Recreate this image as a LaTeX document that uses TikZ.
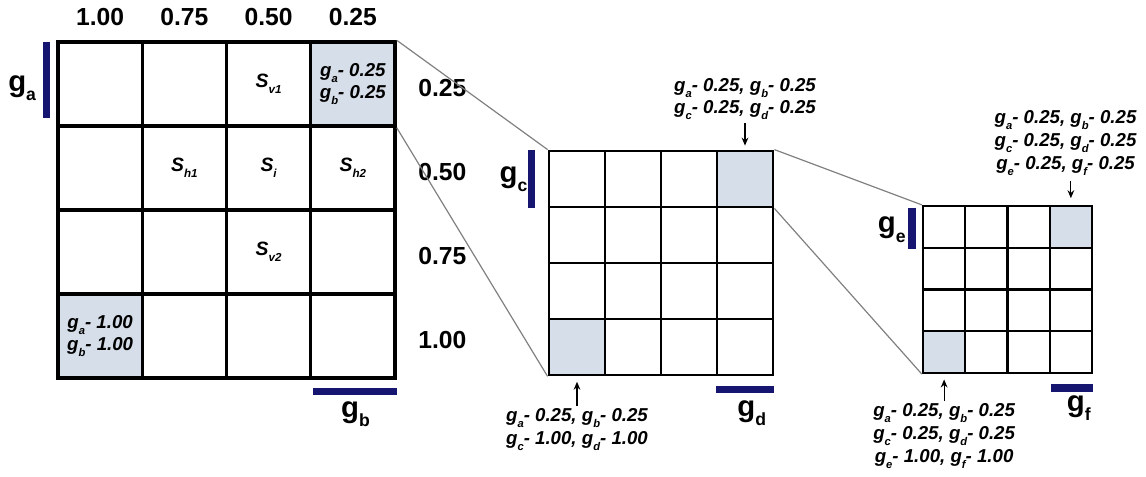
\documentclass[tikz,border=0pt]{standalone}
\usepackage{fontspec}
\setmainfont{Liberation Sans}
\usetikzlibrary{arrows.meta, positioning}

\definecolor{cellblue}{RGB}{214,222,233}
\definecolor{barblue}{RGB}{22,22,112}
\newcommand{\lowsub}[1]{\raisebox{-0.32em}{\scalebox{0.6}{#1}}}

\begin{document}
\begin{tikzpicture}[
        x=0.75pt, y=-0.75pt,
        bigcell/.style={rectangle, draw, line width=2.6pt, minimum width=63.2pt,
                        minimum height=63pt, inner sep=0pt},
        midcell/.style={rectangle, draw, line width=2.1pt, minimum size=42pt,
                        inner sep=0pt},
        smallcell/.style={rectangle, draw, line width=1.7pt, minimum width=31.7pt,
                        minimum height=31.3pt, inner sep=0pt},
        hl14/.style={fill=cellblue},
        hl41/.style={fill=cellblue},
        intxt/.style={font=\fontsize{14}{16.5}\selectfont\bfseries\itshape,
                      align=center, inner sep=0pt},
        stxt/.style={font=\fontsize{14.5}{16}\selectfont\bfseries\itshape,
                     inner sep=0pt},
        num/.style={font=\fontsize{18.5}{20}\selectfont\bfseries, inner sep=0pt},
        glab/.style={font=\fontsize{22}{24}\selectfont\bfseries, inner sep=0pt},
        note/.style={font=\fontsize{14}{17}\selectfont\bfseries\itshape,
                     align=center, inner sep=0pt},
        bar/.style={draw=barblue, line width=5.5pt},
        zoomline/.style={draw=black!50, line width=0.9pt},
        arr/.style={-{Stealth[length=6pt, width=5pt]}, line width=0.9pt},
    ]
    \useasboundingbox (0,0) rectangle (1146,476);

    % the three grids
    \foreach \r in {1,...,4}
        \foreach \c in {1,...,4} {
            \node[bigcell, hl\r\c/.try] (b\r\c) at ({58+84.25*(\c-0.5)}, {42+84*(\r-0.5)}) {};
            \node[midcell, hl\r\c/.try] (m\r\c) at ({549+56*(\c-0.5)}, {151+56*(\r-0.5)}) {};
            \node[smallcell, hl\r\c/.try] (s\r\c) at ({923+42.25*(\c-0.5)}, {206+41.75*(\r-0.5)}) {};
        }

    % cell contents
    \node[stxt] (sv1) at (b13) {S\lowsub{v1}};
    \node[intxt] (cellA) at (b14) {g\lowsub{a}- 0.25\\g\lowsub{b}- 0.25};
    \node[stxt] (sh1) at (b22) {S\lowsub{h1}};
    \node[stxt] (si) at (b23) {S\lowsub{i}};
    \node[stxt] (sh2) at (b24) {S\lowsub{h2}};
    \node[stxt] (sv2) at (b33) {S\lowsub{v2}};
    \node[intxt] (cellB) at (b41) {g\lowsub{a}- 1.00\\g\lowsub{b}- 1.00};

    % levels
    \foreach \c/\v in {1/1.00, 2/0.75, 3/0.50, 4/0.25}
        \node[num, above=11pt of b1\c] (col\c) {\v};
    \foreach \r/\v in {1/0.25, 2/0.50, 3/0.75, 4/1.00}
        \node[num, right=16pt of b\r4, yshift=-3pt] (row\r) {\v};

    % gene bars
    \draw[bar, shorten <=1.5pt, shorten >=7pt] ([xshift=-7.5pt]b11.north west) -- ([xshift=-7.5pt]b11.south west);
    \draw[bar, shorten <=3pt] ([yshift=-9pt]b44.south west) -- ([yshift=-9pt]b44.south east);
    \draw[bar] ([xshift=-12pt]m11.north west) -- ([xshift=-12pt]m11.south west);
    \draw[bar] ([yshift=-9.75pt]m44.south west) -- ([yshift=-9.75pt]m44.south east);
    \draw[bar, shorten <=2pt] ([xshift=-7.5pt]s11.north west) -- ([xshift=-7.5pt]s11.south west);
    \draw[bar, shorten <=2pt] ([yshift=-10.5pt]s44.south west) -- ([yshift=-10.5pt]s44.south east);

    \node[glab, left=15pt of b11, yshift=-3pt] (ga) {g\lowsub{a}};
    \node[glab, below=16pt of b44, xshift=2pt] (gb) {g\lowsub{b}};
    \node[glab, left=15pt of m11] (gc) {g\lowsub{c}};
    \node[glab, below=18pt of m44, xshift=5pt] (gd) {g\lowsub{d}};
    \node[glab, left=12pt of s11, yshift=-2pt] (ge) {g\lowsub{e}};
    \node[glab, below=16pt of s44, xshift=6pt] (gf) {g\lowsub{f}};

    % notes
    \node[note, above=22pt of m14] (mtop) {g\lowsub{a}- 0.25, g\lowsub{b}- 0.25\\g\lowsub{c}- 0.25, g\lowsub{d}- 0.25};
    \node[note, below=24pt of m41] (mbot) {g\lowsub{a}- 0.25, g\lowsub{b}- 0.25\\g\lowsub{c}- 1.00, g\lowsub{d}- 1.00};
    \node[note, above=22pt of s14, xshift=-4pt] (stop) {g\lowsub{a}- 0.25, g\lowsub{b}- 0.25\\g\lowsub{c}- 0.25, g\lowsub{d}- 0.25\\g\lowsub{e}- 0.25, g\lowsub{f}- 0.25};
    \node[note, below=22pt of s41] (sbot) {g\lowsub{a}- 0.25, g\lowsub{b}- 0.25\\g\lowsub{c}- 0.25, g\lowsub{d}- 0.25\\g\lowsub{e}- 1.00, g\lowsub{f}- 1.00};

    \draw[arr, shorten <=2pt, shorten >=3pt] (mtop) -- (m14);
    \draw[arr, shorten <=2pt, shorten >=4pt] (mbot) -- (m41);
    \draw[arr, shorten <=4pt, shorten >=5pt] (s14 |- stop.south) -- (s14.north);
    \draw[arr, shorten <=2pt, shorten >=4pt] (sbot) -- (s41);

    % zoom lines
    \draw[zoomline] (b14.north east) -- (m11.north west);
    \draw[zoomline] (b14.south east) -- (m41.south west);
    \draw[zoomline] (m14.north east) -- (s11.north west);
    \draw[zoomline] (m14.south east) -- (s41.south west);
\end{tikzpicture}
\end{document}
